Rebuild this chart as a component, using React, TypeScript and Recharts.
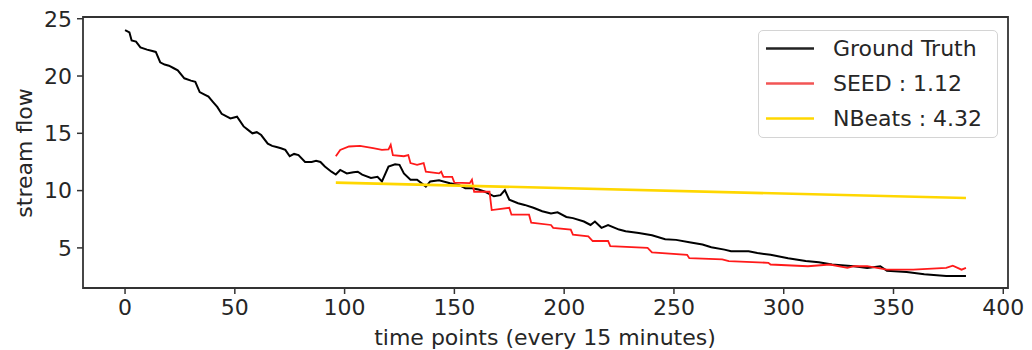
import React from 'react';
import { LineChart, Line, XAxis, YAxis, ReferenceArea, Label } from 'recharts';

// [time point, stream flow]
const groundTruth: [number, number][] = [
  [0, 24.0], [2, 23.8], [3, 23.1], [5, 23.0], [7, 22.5], [10, 22.3], [12, 22.2], [14, 22.1],
  [16, 21.2], [18, 21.0], [20, 20.9], [22, 20.7], [24, 20.5], [27, 19.8], [30, 19.6], [32, 19.5],
  [34, 18.6], [36, 18.4], [38, 18.2], [40, 17.75], [42, 17.3], [44, 16.7], [46, 16.5], [48, 16.3],
  [51, 16.45], [54, 15.6], [56, 15.3], [58, 15.0], [60, 15.1], [62, 14.85], [65, 14.1], [67, 13.9],
  [69, 13.8], [71, 13.7], [73, 13.55], [75, 13.0], [77, 13.2], [79, 13.1], [82, 12.5], [85, 12.5],
  [87, 12.6], [89, 12.5], [91, 12.1], [94, 11.65], [96, 11.4], [98, 11.8], [101, 11.5], [104, 11.6],
  [106, 11.65], [108, 11.4], [112, 11.1], [115, 11.2], [117, 10.8], [120, 12.1], [123, 12.3], [125, 12.25],
  [127, 11.5], [130, 10.95], [133, 10.95], [137, 10.35], [139, 10.8], [143, 10.9], [148, 10.65], [152, 10.5],
  [155, 10.2], [158, 10.2], [161, 10.1], [164, 9.9], [168, 9.5], [171, 9.6], [173, 10.05], [175, 9.2],
  [179, 8.9], [182, 8.75], [186, 8.5], [190, 8.2], [194, 8.0], [197, 8.1], [201, 7.7], [204, 7.6],
  [209, 7.3], [212, 7.0], [214, 7.3], [217, 6.75], [220, 7.0], [225, 6.6], [228, 6.45], [234, 6.3],
  [240, 6.1], [246, 5.75], [251, 5.7], [257, 5.5], [263, 5.3], [267, 5.05], [273, 4.85], [276, 4.7],
  [284, 4.7], [288, 4.55], [294, 4.4], [302, 4.1], [310, 3.85], [316, 3.75], [322, 3.55], [332, 3.4],
  [338, 3.25], [344, 3.4], [347, 3.0], [356, 2.9], [364, 2.7], [374, 2.55], [383, 2.55],
];

const seed: [number, number][] = [
  [96, 13.0], [98, 13.55], [102, 13.85], [107, 13.9], [113, 13.7], [117, 13.55], [120, 13.6], [121, 14.0],
  [122, 13.1], [127, 13.0], [129, 13.1], [130, 12.4], [133, 12.25], [136, 12.4], [137, 11.65], [143, 11.5],
  [144, 11.65], [145, 11.2], [149, 11.2], [150, 10.7], [157, 10.65], [158, 10.95], [159, 9.9], [166, 9.9],
  [167, 8.3], [175, 8.5], [176, 7.9], [184, 7.9], [185, 7.2], [194, 7.0], [195, 6.75], [203, 6.6],
  [204, 6.15], [211, 6.0], [213, 5.6], [220, 5.6], [221, 5.15], [238, 5.0], [240, 4.6], [256, 4.4],
  [257, 4.1], [272, 4.0], [275, 3.85], [293, 3.7], [294, 3.55], [311, 3.4], [321, 3.55], [329, 3.25],
  [332, 3.4], [338, 3.4], [347, 3.1], [359, 3.1], [374, 3.25], [377, 3.45], [381, 3.1], [383, 3.25],
];

const nbeats: [number, number][] = [[96, 10.7], [383, 9.35]];

const xTicks = [0, 50, 100, 150, 200, 250, 300, 350, 400];
const yTicks = [5, 10, 15, 20, 25];
const xDomain: [number, number] = [-19.15, 402.15];
const yDomain: [number, number] = [1.5, 25.15];

const series = [
  { name: 'Ground Truth', points: groundTruth, color: '#000000', legendColor: '#222222', width: 2 },
  { name: 'SEED : 1.12', points: seed, color: '#ff1a1a', legendColor: '#f25555', width: 1.8 },
  { name: 'NBeats : 4.32', points: nbeats, color: '#ffd700', legendColor: '#ffd700', width: 2.6 },
];

const toRows = (pts: [number, number][]) => pts.map(([time, flow]) => ({ time, flow }));

const font = '"DejaVu Sans", sans-serif';
const textColor = '#262626';

// legend box sits over the plot like matplotlib's upper right legend
const ChartLegend = () => (
  <div
    style={{
      position: 'absolute',
      left: 758,
      top: 30,
      width: 240,
      height: 108,
      boxSizing: 'border-box',
      border: '1.5px solid #d4d4d4',
      borderRadius: 5,
      background: 'rgba(255,255,255,0.85)',
      fontFamily: font,
      fontSize: 22,
      color: textColor,
    }}
  >
    {series.map((s) => (
      <div key={s.name} style={{ display: 'flex', alignItems: 'center', height: 35 }}>
        <svg width={74} height={35} style={{ flex: 'none' }}>
          <line x1={7} y1={17.5} x2={55} y2={17.5} stroke={s.legendColor} strokeWidth={2.5} />
        </svg>
        <span style={{ whiteSpace: 'nowrap' }}>{s.name}</span>
      </div>
    ))}
  </div>
);

const App: React.FC = () => {
  return (
    <div style={{ position: 'absolute', left: 0, top: 0, width: 1032, height: 350, background: '#fff' }}>
      <LineChart width={1032} height={350} margin={{ top: 17, right: 24, bottom: 0, left: 0 }}>
        <XAxis
          dataKey="time"
          type="number"
          domain={xDomain}
          ticks={xTicks}
          allowDataOverflow
          height={62}
          axisLine={false}
          tickSize={6}
          tickMargin={5}
          tickLine={{ stroke: '#333', strokeWidth: 1.5 }}
          tick={{ fill: textColor, fontSize: 22, fontFamily: font }}
        >
          <Label
            content={() => (
              <text x={545} y={345} textAnchor="middle" fill={textColor} fontSize={22} fontFamily={font}>
                time points (every 15 minutes)
              </text>
            )}
          />
        </XAxis>
        <YAxis
          type="number"
          domain={yDomain}
          ticks={yTicks}
          allowDataOverflow
          width={83}
          axisLine={false}
          tickSize={6}
          tickMargin={5}
          tickLine={{ stroke: '#333', strokeWidth: 1.5 }}
          tick={{ fill: textColor, fontSize: 22, fontFamily: font }}
        >
          <Label
            content={() => (
              <text
                transform="translate(32,153) rotate(-90)"
                textAnchor="middle"
                fill={textColor}
                fontSize={22}
                fontFamily={font}
              >
                stream flow
              </text>
            )}
          />
        </YAxis>
        <ReferenceArea
          x1={xDomain[0]}
          x2={xDomain[1]}
          y1={yDomain[0]}
          y2={yDomain[1]}
          fill="none"
          stroke="#333"
          strokeWidth={1.8}
          ifOverflow="visible"
        />
        {series.map((s) => (
          <Line
            key={s.name}
            data={toRows(s.points)}
            dataKey="flow"
            name={s.name}
            type="linear"
            stroke={s.color}
            strokeWidth={s.width}
            dot={false}
            activeDot={false}
            isAnimationActive={false}
          />
        ))}
      </LineChart>
      <ChartLegend />
    </div>
  );
};

export default App;
